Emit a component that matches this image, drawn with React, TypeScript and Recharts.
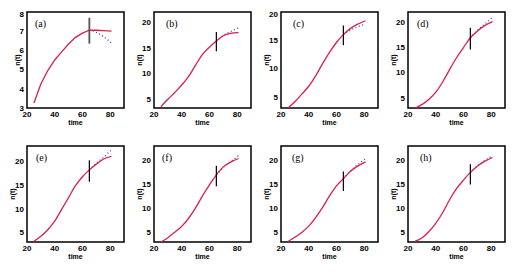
import { Label, Line, LineChart, ReferenceArea, ReferenceLine, XAxis, YAxis } from "recharts";

// sample times for the fitted curve and for the held-out observations
const fitTimes = [25, 30, 35, 40, 45, 50, 55, 60, 65, 70, 75, 81];
const obsTimes = [65, 68, 71, 74, 77, 81];
const timeTicks = [20, 40, 60, 80];
const cutTime = 65;

const fitA = [3.26, 4.25, 4.95, 5.5, 5.92, 6.33, 6.68, 6.9, 7.06, 7.05, 7.03, 7.0];
const fitB = [3.45, 4.9, 6.25, 7.7, 9.4, 11.6, 13.7, 15.1, 16.3, 17.35, 17.8, 17.95];
const fitC = [3.0, 4.1, 5.45, 6.85, 8.7, 10.85, 12.85, 14.6, 16.0, 17.06, 17.8, 18.45];
const fitD = [2.95, 3.67, 4.7, 6.1, 8.15, 10.6, 12.95, 14.95, 16.9, 18.2, 19.25, 20.1];
const fitE = [3.15, 4.2, 5.6, 7.4, 9.9, 12.4, 14.9, 16.8, 18.25, 19.45, 20.5, 21.1];
const fitF = [3.0, 3.9, 5.05, 6.25, 7.95, 10.1, 12.6, 14.9, 17.0, 18.65, 19.6, 20.4];
const fitG = [3.1, 4.0, 5.0, 6.3, 8.1, 10.2, 12.6, 14.7, 16.2, 17.7, 18.75, 19.7];
const fitH = [3.15, 3.85, 5.15, 6.9, 9.1, 11.8, 14.1, 15.9, 17.5, 18.8, 19.75, 20.6];

const obsA = [7.06, 7.0, 6.9, 6.78, 6.62, 6.38];
const obsB = [16.3, 17.0, 17.6, 18.0, 18.4, 18.9];
const obsC = [16.0, 16.5, 16.9, 17.25, 17.55, 17.8];
const obsD = [16.9, 17.8, 18.6, 19.3, 20.0, 21.0];
const obsE = [18.25, 19.1, 19.9, 20.6, 21.4, 22.5];
const obsF = [17.0, 17.9, 18.8, 19.5, 20.1, 21.0];
const obsG = [16.2, 17.2, 18.0, 18.8, 19.5, 20.35];
const obsH = [17.5, 18.3, 19.1, 19.7, 20.3, 20.95];

// vertical marker extent at the cut time [low, high]
const cutA = [6.35, 7.7];
const cutB = [14.3, 18.1];
const cutC = [14.1, 17.6];
const cutD = [14.6, 18.9];
const cutE = [15.75, 20.3];
const cutF = [14.6, 18.9];
const cutG = [13.6, 17.7];
const cutH = [15.0, 19.2];

const panelNames = ["(a)", "(b)", "(c)", "(d)", "(e)", "(f)", "(g)", "(h)"];
const yDomains = [
  [3, 8],
  [3.2, 22],
  [3, 20],
  [3, 22],
  [3, 23.3],
  [3, 23],
  [3, 23],
  [3, 23],
];
const ticksA = [3, 4, 5, 6, 7, 8];
const ticksN = [5, 10, 15, 20];

const fits = [fitA, fitB, fitC, fitD, fitE, fitF, fitG, fitH];
const obs = [obsA, obsB, obsC, obsD, obsE, obsF, obsG, obsH];
const cuts = [cutA, cutB, cutC, cutD, cutE, cutF, cutG, cutH];

const colLeft = [27, 154, 281, 408];
const rowTop = [12, 146];
const boxW = 97;
const boxH = 96;
const axisW = 30;
const labelDx = [0, 4, 4, 1, 1, 0, 3, 4];

const tickStyle = { fontSize: 8, fontWeight: 700, fill: "#000", fontFamily: "Liberation Sans, Arial, sans-serif" };

const Panel = ({ i }: { i: number }) => {
  const [y0, y1] = yDomains[i];
  const fitData = fitTimes.map((t, k) => ({ t, v: fits[i][k] }));
  const obsData = obsTimes.map((t, k) => ({ t, v: obs[i][k] }));
  const left = colLeft[i % 4] - axisW;
  const top = rowTop[Math.floor(i / 4)] - 2;
  return (
    <div style={{ position: "absolute", left, top }}>
      <LineChart width={axisW + boxW + 3} height={2 + boxH + 20} margin={{ top: 2, right: 3, bottom: 0, left: 0 }}>
        <XAxis
          dataKey="t"
          type="number"
          domain={[20, 90]}
          ticks={timeTicks}
          allowDataOverflow
          tickLine={false}
          axisLine={false}
          tickSize={2}
          tickMargin={1}
          height={20}
          tick={tickStyle}
        >
          <Label value="time" position="insideBottom" offset={3} style={{ fontSize: 7, fontWeight: 700, fill: "#000", fontFamily: "Liberation Sans, Arial, sans-serif" }} />
        </XAxis>
        <YAxis
          type="number"
          domain={[y0, y1]}
          ticks={i === 0 ? ticksA : ticksN}
          allowDataOverflow
          tickLine={false}
          axisLine={false}
          tickSize={2}
          tickMargin={1}
          width={axisW}
          tick={tickStyle}
        >
          <Label
            value="n(t)"
            angle={-90}
            position="insideLeft"
            offset={i === 0 ? 21 : 16}
            style={{ fontSize: 7, fontWeight: 700, fill: "#000", textAnchor: "middle", fontFamily: "Liberation Sans, Arial, sans-serif" }}
          />
        </YAxis>
        <Line
          data={obsData}
          dataKey="v"
          type="monotone"
          stroke="#3a3ad0"
          strokeWidth={1.3}
          strokeDasharray="1 2.5"
          dot={false}
          isAnimationActive={false}
        />
        <Line
          data={fitData}
          dataKey="v"
          type={i === 0 ? "linear" : "monotone"}
          stroke="#dc1e50"
          strokeWidth={1.3}
          dot={false}
          isAnimationActive={false}
        />
        <ReferenceLine
          segment={[
            { x: cutTime, y: cuts[i][0] },
            { x: cutTime, y: cuts[i][1] },
          ]}
          stroke={i === 0 ? "#555" : "#000"}
          strokeWidth={i === 0 ? 1.8 : 1.2}
        />
        <ReferenceArea x1={20} x2={90} y1={y0} y2={y1} fill="none" stroke="#000" strokeWidth={1.5} ifOverflow="visible">
          <Label
            value={panelNames[i]}
            position="insideTopLeft"
            offset={8}
            dx={labelDx[i]}
            style={{ fontSize: 10, fill: "#000", fontFamily: "Liberation Serif, serif" }}
          />
        </ReferenceArea>
      </LineChart>
    </div>
  );
}

export default function App() {
  return (
    <div style={{ position: "fixed", left: 0, top: 0, width: 529, height: 273, background: "#fff" }}>
      {panelNames.map((_, i) => (
        <Panel key={i} i={i} />
      ))}
    </div>
  );
}
